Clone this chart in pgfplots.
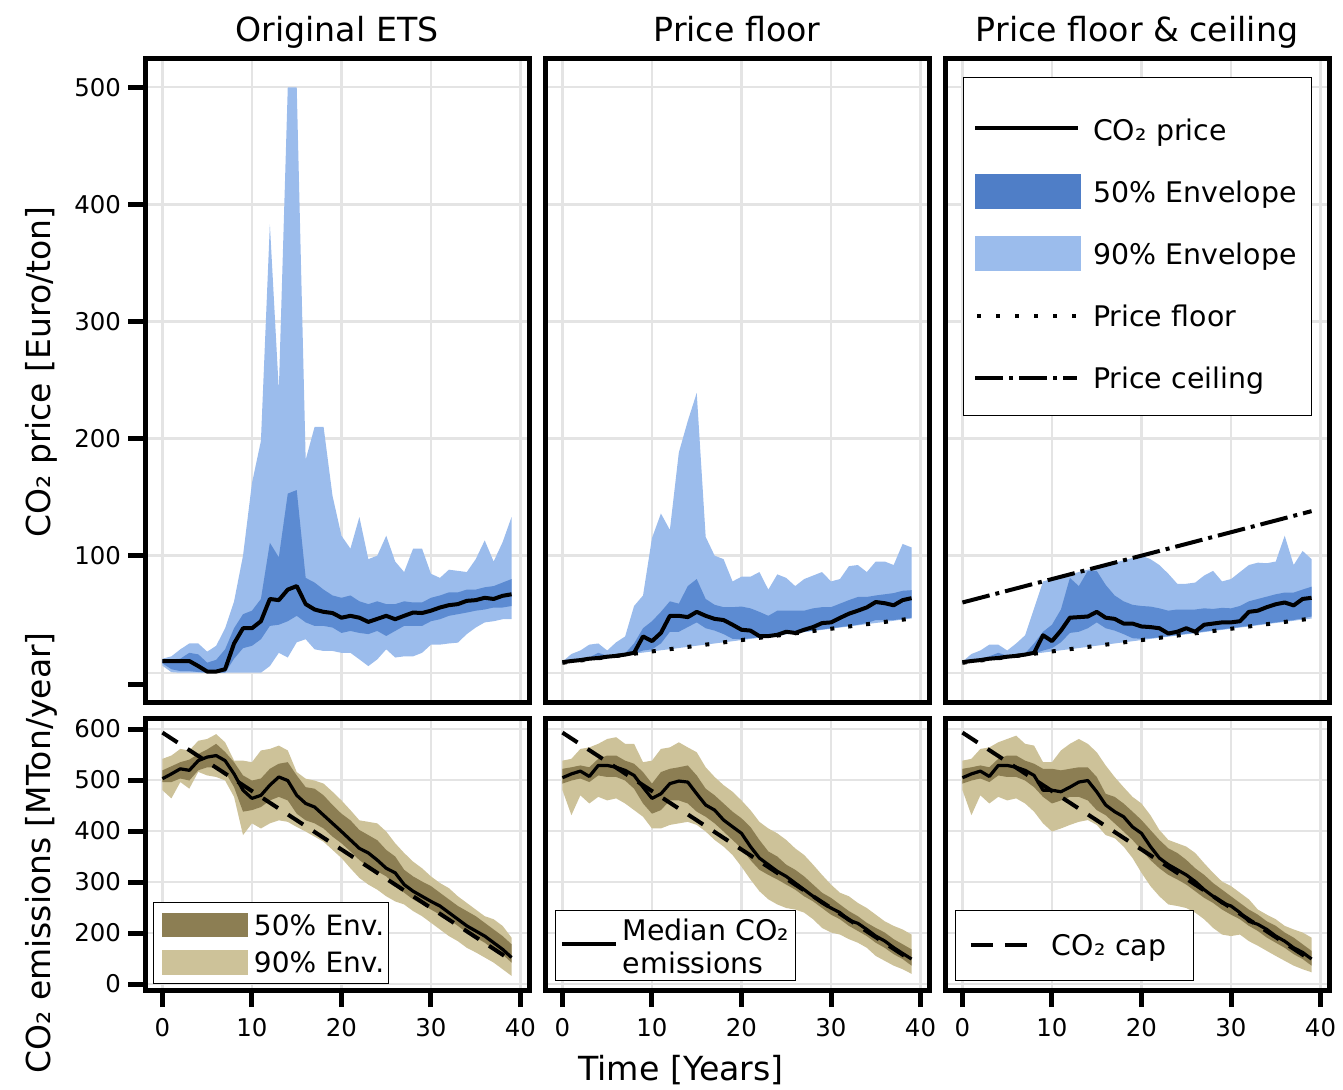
\documentclass[border=0pt]{standalone}
\usepackage{fontspec}
\setmainfont{DejaVu Sans}
\usepackage{pgfplots}
\usepackage{pgfplotstable}
\pgfplotsset{compat=1.18}
\usepgfplotslibrary{fillbetween}

\definecolor{cninety}{RGB}{155,188,236}
\definecolor{cfifty}{RGB}{92,139,210}
\definecolor{cfiftyleg}{RGB}{79,126,199}
\definecolor{efifty}{RGB}{140,126,83}
\definecolor{eninety}{RGB}{205,194,153}
\definecolor{gridc}{RGB}{228,228,228}

\pgfplotstableread{
t med lo50 hi50 lo90 hi90
0 10 8 11 6 12
1 10 3 11.4 0.5 14
2 10 1.4 12 0 20
3 10 1.4 17 0 25
4 5.7 0.6 15.7 0 25
5 1 0 8.6 0 18
6 1 0 11 0 23
7 3 0 20 0 38
8 25 12 38 0 61
9 38 21 50 0 100
10 38 23 53 0 162
11 44 28.6 63 0 198
12 63 40 111 5.7 383
13 62 41 98.6 17 241
14 71 44 153 13 500
15 74 48.6 156 26 500
16 58.6 43 81 28.6 182
17 54 40 77 20 210
18 52 40 71 18.6 210
19 51 38.6 66 18.6 151
20 47 34 64 17 117
21 48.6 35.7 66 17 106
22 47 34 61 11.4 133
23 43.4 33 58.6 5.7 97
24 46 35.7 61 11.4 100
25 48.6 31.4 58.6 20 117
26 45.7 35.7 58.6 13 95
27 48.6 40 61 14 86
28 51.4 40 60 14 106
29 51 40 60 17 106
30 53 44 64 24 84.5
31 55.7 45.7 66 24 81
32 57.7 48.6 68.6 25 88
33 58.6 50 68.6 25.7 87
34 61.4 51.4 71 33 86
35 62 53 71 38.6 97
36 64 54 73 43 113
37 63 55.7 74 44 95
38 65.7 55.7 77 45.7 111.5
39 67 57 80 45.7 133
}\Pone

\pgfplotstableread{
t med lo50 hi50 lo90 hi90
0 9 8.6 9.4 8.5 9.5
1 10 9.6 11 9.5 16
2 10.8 10.5 11.5 10.4 19
3 12 11.5 13 11.4 24
4 12.6 12.4 17 12.4 25
5 13.7 13.4 14.5 13.4 19
6 14.4 14.3 15.5 14.3 26
7 15.5 15.3 16.5 15.3 31
8 17 16.4 25 16.3 57
9 31 19 38 17.2 66
10 27 20 44 18.2 115
11 34 25 52 19.2 136
12 48.6 35 61 20.1 122
13 48.6 35 59 21.1 188
14 47.5 39 74 22.1 215
15 52 43 80 23.1 239
16 48.6 38 63 24 116
17 46 36 58 25 100
18 45 33 56 26 97
19 41 29 56 26.9 78
20 36.7 28.5 56.5 27.9 82
21 36 29.5 55 28.9 82
22 31.3 30.3 52 29.8 86
23 31.3 31.1 48.6 30.8 71
24 32.4 32 53 31.8 84
25 35 33.1 53 32.8 81
26 34 34 53 33.7 74
27 36.7 35 53 34.7 80
28 39 36 55 35.7 83
29 42.4 37 56 36.6 86
30 43 38 56 37.6 78
31 46.8 39 59 38.6 80
32 50.4 40 62 39.5 91
33 53 41 64.7 40.5 92
34 55.8 42.5 64.7 41.5 86
35 60.4 45 66 42.5 95
36 59.4 45 67 43.4 95
37 57.6 45 68 44.4 92
38 62 46 70 45.4 110
39 63.7 47 70.5 46.3 107
}\Ptwo

\pgfplotstableread{
t med lo50 hi50 lo90 hi90
0 9 8.6 9.4 8.5 9.5
1 10 9.6 11 9.5 16
2 10.8 10.5 12 10.4 19
3 12 11.5 14 11.4 24
4 12.6 12.4 17 12.4 24
5 13.7 13.4 14.5 13.4 19
6 14.4 14.3 15.5 14.3 25
7 15.5 15.3 16.5 15.3 32
8 17 16.4 25 16.3 55
9 32 19 35 17.2 78
10 27 21 41 18.2 80
11 36 26 54 19.2 82
12 47 34 81 20.1 84
13 47.5 35 74 21.1 86
14 48 38 87 22.1 88
15 52 43 87 23.1 90
16 47 38 75 24 92
17 46 36 66 25 94
18 42 33 61 26 96
19 42 29.5 58 26.9 98
20 39.5 29 57 27.9 100
21 39 29.5 56.5 28.9 97
22 38 30.3 55 29.8 92
23 33.5 31.3 53 30.8 84.5
24 35 32.3 54 31.8 76
25 38 33.3 54 32.8 76
26 35 34.2 54 33.7 77
27 41 35.2 55 34.7 83
28 42 36.2 54.5 35.7 87
29 43 37.1 55.4 36.6 78
30 43 38.1 55 37.6 80
31 44 39.1 57 38.6 86
32 52 40 61 39.5 92
33 53 41 63 40.5 94
34 56 42 65 41.5 93.5
35 58.5 43 67 42.5 95
36 60 44 68.5 43.4 117
37 57.5 45 68.5 44.4 92
38 63 46.5 71 45.4 104
39 64 48 73.5 46.3 97
}\Pthree

\pgfplotstableread{
t med lo50 hi50 lo90 hi90
0 502.6 496 519 480 541.6
1 512 496 527 464 548
2 522 503 535 496 561
3 519 499 540 483 558
4 538 519 551 516 577
5 545 525 560 509 580.5
6 548 525 571 506 590
7 538 516 555 499 574
8 512 486 535 467 538
9 480 438 509 392 538
10 464 441 499 415 535
11 470 447 503 405 558
12 490 460 522 415 561
13 506 467 532 421 567.5
14 499 460 535 418 558
15 470 434 509 408 515.6
16 454 421 486 399 502.6
17 447 415 483 389 499
18 431 405 470 379 493
19 415 389 451 363 477
20 399 376 434 347 460
21 382.5 360 421 327 441
22 366 343 402 308 421
23 357 330 392 295 418
24 343 321 382 285 415
25 327 311 363 272 399
26 318 295 350 262 376
27 295 279 324 256 357
28 282 266 311 243 340
29 272 256 301 233 327
30 262 246 292 220 311
31 253 236 279 207 298
32 240 227 266 194 288
33 227 214 253 184 272
34 214 201 243 171 259
35 204 191 233 162 246
36 194 181 220 152 233
37 181 168 207 142 227
38 168 158 194 129 214
39 152 142 178 116 191
}\Eone

\pgfplotstableread{
t med lo50 hi50 lo90 hi90
0 504.5 493 522 480 538
1 512 499 525 431 541.6
2 517.5 503 528.6 470 561
3 507 496 525 454 564
4 528.6 509 541.6 467 571
5 528.6 506 548 460 580.5
6 525 506 548 464 584
7 519 499 538 454 571
8 509 483 532 441 571
9 486 454 515.6 428 535
10 464 434 493 405 538
11 473 441 515.6 405 561
12 493 460 522 412 564
13 498 460 525 415 574
14 496 454 528.6 418 564
15 473 438 509 412 554.5
16 451 428 483 399 525
17 441 415 470 382.5 506
18 421.5 399 454 369.5 490
19 408.4 382.5 438 353 477
20 395.5 366 425 330 460
21 369.5 343 408 305 441
22 347 324 382.5 282 418
23 334 314 360 266 405
24 321 305 350 256 395.5
25 311 295 334 249 382.5
26 298 285 324 246 366
27 285 272 311 240 353
28 272 262 295 227 334
29 259 249 279 210 314
30 249 236 269 201 295
31 240 227 256 197 279
32 225 214 243 188 272
33 219 204 233 181 259
34 207 194 220 171 249
35 194 181 210 155 236
36 184.4 171 201 145.5 223
37 171.4 158.5 188 136 214
38 160 149 178 129 207
39 149 136 168 120 197
}\Etwo

\pgfplotstableread{
t med lo50 hi50 lo90 hi90
0 504.5 493 522 480 538
1 512 499 525 431 541.6
2 517.5 503 528.6 470 561
3 507 496 525 454 564
4 528.6 509 541.6 467 574
5 528.6 506 548 460 580.5
6 525 506 548 464 587
7 519 499 538 454 571
8 509 486 532 438 567.5
9 480 467 522 415 535
10 480 454 522 399 535
11 477 460 519 405 558
12 486 467 522 412 571
13 496 467 525 418 580.5
14 499 460 525 421.5 571
15 477 441 506 412 554.5
16 451 431 473 392 528.6
17 438 415 467 386 506
18 428 399 454 369.5 486
19 408 382.5 438 347 467
20 395.5 363 421.5 318 454
21 369.5 343 402 292 431
22 347 327 382.5 272 402
23 334 314 366 256 382.5
24 324 305 357 253 376
25 314 295 343.5 249 369.5
26 301 282 327 240 357
27 285 269 314 227 337
28 272 259 298 210 318
29 259 246 285 197 301
30 253 236 272 194 292
31 240 227 259 197 279
32 223 214 246 184 266
33 217 204 236 175 246
34 207 191 223 165 236
35 194 181 214 155 227
36 184 171 201 145.5 214
37 171 158.5 191 136 207
38 162 149 178 129 201
39 149 136 165 123 191
}\Ethree

\pgfplotsset{
  base/.style={scale only axis, width=192pt, xmin=-1.95, xmax=40.95,
    xtick={0,10,20,30,40},
    axis line style={line width=2.5pt},
    grid=major, grid style={gridc, line width=1.2pt},
    tick align=outside, major tick length=8.5pt,
    tick style={line width=2.5pt, black},
    xtick pos=bottom, ytick pos=left,
    tick label style={font=\fontsize{12.2}{14}\selectfont},
    xticklabel style={yshift=-2pt},
    /pgf/number format/assume math mode=true},
  toprow/.style={base, height=322pt, ymin=-25, ymax=525,
    xticklabels={}, xtick style={draw=none},
    title style={font=\fontsize{16.6}{19}\selectfont, at={(0.5,1)}, anchor=base, yshift=2.3pt}},
  botrow/.style={base, height=136pt, ymin=88.2, ymax=621.6, ytick={100,200,300,400,500,600}},
  nolabely/.style={yticklabels={}, ytick style={draw=none}},
  medtop/.style={black, line width=2pt, line join=round},
  medbot/.style={black, line width=1.6pt, line join=round},
  capline/.style={black, line width=2pt, dash pattern=on 9pt off 6pt},
  floorline/.style={black, line width=2pt, dash pattern=on 2pt off 7pt},
  ceilline/.style={black, line width=2pt, dash pattern=on 14pt off 3pt on 2pt off 3pt},
}

\begin{document}
\begin{tikzpicture}

% ---------------- top row ----------------
\begin{axis}[toprow, at={(72.5pt,-29pt)}, anchor=north west, title={Original ETS},
  ytick={100,200,300,400,500}, minor ytick={0}, grid=both,
  minor grid style={gridc, line width=1.2pt}, minor tick length=0pt,
  extra y ticks={-10}, extra y tick labels={}, extra y tick style={grid=none}]
\addplot[name path=u9a, draw=none, forget plot] table[x=t,y=hi90]{\Pone};
\addplot[name path=l9a, draw=none, forget plot] table[x=t,y=lo90]{\Pone};
\addplot[cninety, forget plot] fill between[of=u9a and l9a];
\addplot[name path=u5a, draw=none, forget plot] table[x=t,y=hi50]{\Pone};
\addplot[name path=l5a, draw=none, forget plot] table[x=t,y=lo50]{\Pone};
\addplot[cfifty, forget plot] fill between[of=u5a and l5a];
\addplot[medtop, forget plot] table[x=t,y=med]{\Pone};
\end{axis}

\begin{axis}[toprow, nolabely, at={(272.5pt,-29pt)}, anchor=north west, title={Price floor},
  ytick={0,100,200,300,400,500}]
\addplot[name path=u9b, draw=none, forget plot] table[x=t,y=hi90]{\Ptwo};
\addplot[name path=l9b, draw=none, forget plot] table[x=t,y=lo90]{\Ptwo};
\addplot[cninety, forget plot] fill between[of=u9b and l9b];
\addplot[name path=u5b, draw=none, forget plot] table[x=t,y=hi50]{\Ptwo};
\addplot[name path=l5b, draw=none, forget plot] table[x=t,y=lo50]{\Ptwo};
\addplot[cfifty, forget plot] fill between[of=u5b and l5b];
\addplot[floorline, forget plot] coordinates {(0,8.5) (39,46.3)};
\addplot[medtop, forget plot] table[x=t,y=med]{\Ptwo};
\end{axis}

\begin{axis}[toprow, nolabely, at={(472.5pt,-29pt)}, anchor=north west, title={Price floor \& ceiling},
  ytick={0,100,200,300,400,500},
  legend style={at={(axis description cs:0.0469,0.9705)}, anchor=north west,
    draw=black, line width=0.5pt, fill=white, inner sep=0pt, outer sep=0pt,
    font=\fontsize{14.2}{17}\selectfont, row sep=0pt, column sep=0pt,
    cells={anchor=base west},
    nodes={draw=none, inner sep=0pt, text width=109pt, align=left, text depth=0pt}}]
\addlegendimage{legend image code/.code={
  \path[draw=none] (-6pt,-10.3pt) rectangle (59pt,31.7pt);
  \draw[black, line width=2pt] (0pt,6.2pt) -- (51.5pt,6.2pt);}}
\addlegendentry{CO₂ price}
\addlegendimage{legend image code/.code={
  \path[draw=none] (-6pt,-10.3pt) rectangle (59pt,20.7pt);
  \fill[cfiftyleg, draw=none] (0pt,-3.5pt) rectangle (53pt,14pt);}}
\addlegendentry{50\% Envelope}
\addlegendimage{legend image code/.code={
  \path[draw=none] (-6pt,-10.3pt) rectangle (59pt,20.7pt);
  \fill[cninety, draw=none] (0pt,-3.5pt) rectangle (53pt,14pt);}}
\addlegendentry{90\% Envelope}
\addlegendimage{legend image code/.code={
  \path[draw=none] (-6pt,-10.3pt) rectangle (59pt,20.7pt);
  \draw[black, line width=2pt, dash pattern=on 2pt off 7.5pt] (1pt,5.2pt) -- (51pt,5.2pt);}}
\addlegendentry{Price floor}
\addlegendimage{legend image code/.code={
  \path[draw=none] (-6pt,-13.3pt) rectangle (59pt,20.7pt);
  \draw[black, line width=2pt, dash pattern=on 14pt off 3pt on 2pt off 3pt] (0pt,5.2pt) -- (51pt,5.2pt);}}
\addlegendentry{Price ceiling}
\addplot[name path=u9c, draw=none, forget plot] table[x=t,y=hi90]{\Pthree};
\addplot[name path=l9c, draw=none, forget plot] table[x=t,y=lo90]{\Pthree};
\addplot[cninety, forget plot] fill between[of=u9c and l9c];
\addplot[name path=u5c, draw=none, forget plot] table[x=t,y=hi50]{\Pthree};
\addplot[name path=l5c, draw=none, forget plot] table[x=t,y=lo50]{\Pthree};
\addplot[cfifty, forget plot] fill between[of=u5c and l5c];
\addplot[floorline, forget plot] coordinates {(0,8.5) (39,46.3)};
\addplot[ceilline, forget plot] coordinates {(0,60) (39,138)};
\addplot[medtop, forget plot] table[x=t,y=med]{\Pthree};
\end{axis}

% ---------------- bottom row ----------------
\begin{axis}[botrow, at={(72.5pt,-359pt)}, anchor=north west,
  yticklabels={0,200,300,400,500,600},
  legend style={at={(axis description cs:0.0216,0.3235)}, anchor=north west,
    draw=black, line width=0.5pt, fill=white, inner sep=0pt, outer sep=0pt,
    font=\fontsize{14}{17}\selectfont, row sep=0pt, column sep=0pt,
    cells={anchor=base west},
    nodes={draw=none, inner sep=0pt, text width=67pt, align=left, text depth=0pt}}]
\addlegendimage{legend image code/.code={
  \path[draw=none] (-4.2pt,-4.275pt) rectangle (46.15pt,16.6pt);
  \fill[efifty, draw=none] (0pt,-1.05pt) rectangle (43.3pt,11.25pt);}}
\addlegendentry{50\% Env.}
\addlegendimage{legend image code/.code={
  \path[draw=none] (-4.2pt,-5.15pt) rectangle (46.15pt,14.475pt);
  \fill[eninety, draw=none] (0pt,-1.05pt) rectangle (43.3pt,11.25pt);}}
\addlegendentry{90\% Env.}
\addplot[name path=u9d, draw=none, forget plot] table[x=t,y=hi90]{\Eone};
\addplot[name path=l9d, draw=none, forget plot] table[x=t,y=lo90]{\Eone};
\addplot[eninety, forget plot] fill between[of=u9d and l9d];
\addplot[name path=u5d, draw=none, forget plot] table[x=t,y=hi50]{\Eone};
\addplot[name path=l5d, draw=none, forget plot] table[x=t,y=lo50]{\Eone};
\addplot[efifty, forget plot] fill between[of=u5d and l5d];
\addplot[medbot, forget plot] table[x=t,y=med]{\Eone};
\addplot[capline, forget plot] coordinates {(0,593) (39,146)};
\end{axis}

\begin{axis}[botrow, nolabely, at={(272.5pt,-359pt)}, anchor=north west,
  legend style={at={(axis description cs:0.0286,0.2941)}, anchor=north west,
    draw=black, line width=0.5pt, fill=white, inner sep=0pt, outer sep=0pt,
    font=\fontsize{14.2}{16.5}\selectfont, row sep=0pt, column sep=0pt,
    cells={anchor=base west},
    nodes={draw=none, inner sep=0pt, text width=86.5pt, align=left, text depth=0pt}}]
\addlegendimage{legend image code/.code={
  \path[draw=none] (-3pt,-20pt) rectangle (30.5pt,15pt);
  \draw[black, line width=1.6pt] (0pt,-2pt) -- (27pt,-2pt);}}
\addlegendentry{Median CO₂\\emissions}
\addplot[name path=u9e, draw=none, forget plot] table[x=t,y=hi90]{\Etwo};
\addplot[name path=l9e, draw=none, forget plot] table[x=t,y=lo90]{\Etwo};
\addplot[eninety, forget plot] fill between[of=u9e and l9e];
\addplot[name path=u5e, draw=none, forget plot] table[x=t,y=hi50]{\Etwo};
\addplot[name path=l5e, draw=none, forget plot] table[x=t,y=lo50]{\Etwo};
\addplot[efifty, forget plot] fill between[of=u5e and l5e];
\addplot[medbot, forget plot] table[x=t,y=med]{\Etwo};
\addplot[capline, forget plot] coordinates {(0,593) (39,146)};
\end{axis}

\begin{axis}[botrow, nolabely, at={(472.5pt,-359pt)}, anchor=north west,
  legend style={at={(axis description cs:0.0286,0.2941)}, anchor=north west,
    draw=black, line width=0.5pt, fill=white, inner sep=0pt, outer sep=0pt,
    font=\fontsize{14.2}{17}\selectfont, row sep=0pt, column sep=0pt,
    cells={anchor=base west},
    nodes={draw=none, inner sep=0pt, text width=71pt, align=left, text depth=0pt}}]
\addlegendimage{legend image code/.code={
  \path[draw=none] (-7.5pt,-12.5pt) rectangle (40.5pt,22.5pt);
  \draw[black, line width=2pt, dash pattern=on 11pt off 6pt] (0pt,5.1pt) -- (28pt,5.1pt);}}
\addlegendentry{CO₂ cap}
\addplot[name path=u9f, draw=none, forget plot] table[x=t,y=hi90]{\Ethree};
\addplot[name path=l9f, draw=none, forget plot] table[x=t,y=lo90]{\Ethree};
\addplot[eninety, forget plot] fill between[of=u9f and l9f];
\addplot[name path=u5f, draw=none, forget plot] table[x=t,y=hi50]{\Ethree};
\addplot[name path=l5f, draw=none, forget plot] table[x=t,y=lo50]{\Ethree};
\addplot[efifty, forget plot] fill between[of=u5f and l5f];
\addplot[medbot, forget plot] table[x=t,y=med]{\Ethree};
\addplot[capline, forget plot] coordinates {(0,593) (39,146)};
\end{axis}

\node[rotate=90, anchor=base, font=\fontsize{16.5}{19}\selectfont] at (25pt,-186pt) {CO₂ price [Euro/ton]};
\node[rotate=90, anchor=base, font=\fontsize{16.5}{19}\selectfont] at (25pt,-426.5pt) {CO₂ emissions [MTon/year]};
\node[anchor=base, font=\fontsize{16.6}{19}\selectfont] at (340.5pt,-540pt) {Time [Years]};

\pgfresetboundingbox
\path[use as bounding box] (0pt,0pt) rectangle (671.5pt,-544.5pt);
\end{tikzpicture}
\end{document}
